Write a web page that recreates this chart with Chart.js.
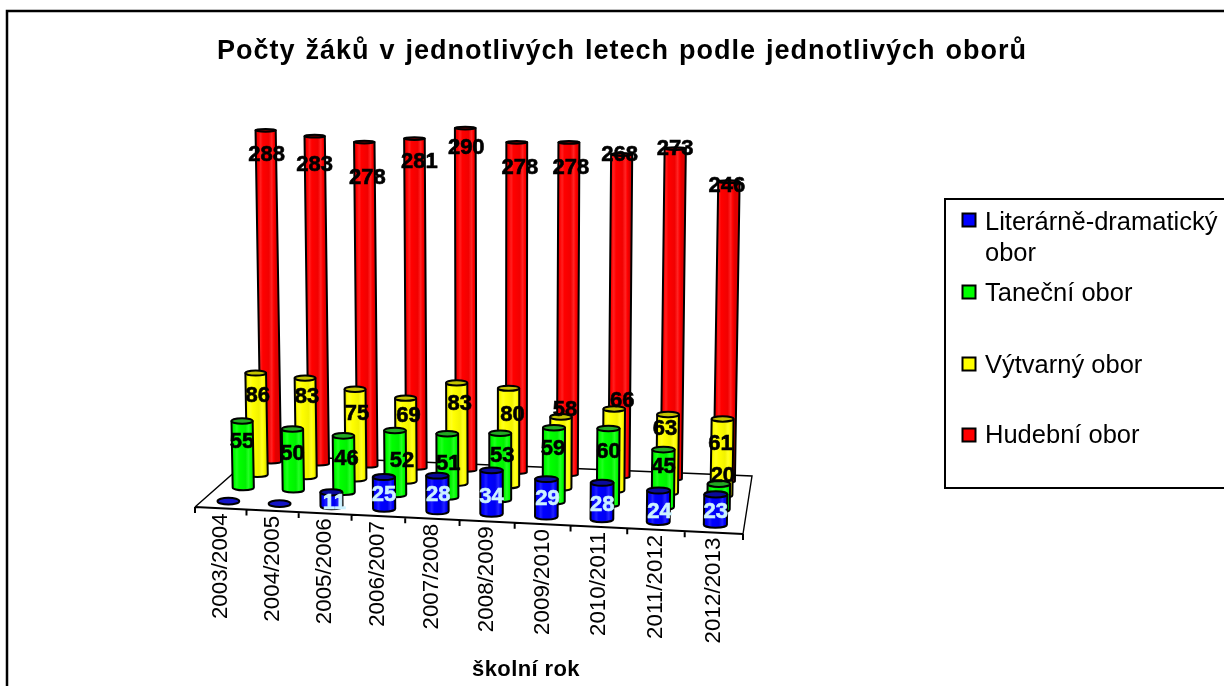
<!DOCTYPE html>
<html lang="cs">
<head>
    <meta charset="UTF-8">
    <title>Počty žáků</title>
    <script src="https://cdn.jsdelivr.net/npm/chart.js"></script>
    <style>
        body { margin: 0; background: #ffffff; }
        canvas { display: block; }
    </style>
</head>
<body>
    <canvas id="chart" width="1224" height="686"></canvas>
    <script>
        const chartTitle = "Počty žáků v jednotlivých letech podle jednotlivých oborů";
        const axisTitle = "školní rok";
        const years = ["2003/2004", "2004/2005", "2005/2006", "2006/2007", "2007/2008",
                       "2008/2009", "2009/2010", "2010/2011", "2011/2012", "2012/2013"];
        const literarni = [0, 0, 11, 25, 28, 34, 29, 28, 24, 23];
        const tanecni = [55, 50, 46, 52, 51, 53, 59, 60, 45, 20];
        const vytvarny = [86, 83, 75, 69, 83, 80, 58, 66, 63, 61];
        const hudebni = [288, 283, 278, 281, 290, 278, 278, 268, 273, 246];
        const seriesNames = ["Literárně-dramatický obor", "Taneční obor", "Výtvarný obor", "Hudební obor"];
        const seriesValues = [literarni, tanecni, vytvarny, hudebni];

        const FONT = '"Liberation Sans", Arial, sans-serif';

        // floor of the 3D box on screen: front-left, front-right, back-right, back-left
        const floor = [[195, 507], [743, 534], [752, 476], [254, 455]];
        const spreadCentre = 500;   // bars lean away from this x as they get taller
        const spread = 0.00007;

        const colours = ["#0000ff", "#00ff00", "#ffff00", "#ff0000"];
        const topColours = ["#0a0a9c", "#22aa22", "#c4c400", "#7a0000"];
        const labelColours = ["#ccf2ff", "#000000", "#000000", "#000000"];

        // Excel put the 3D labels in odd places, these are pixel nudges from the top of each bar
        const labelNudges = [
            [[0, 0], [0, 0], [3, 11], [0, 18], [1, 19], [0, 27], [1, 20], [0, 22], [1, 21], [0, 18]],
            [[0, 21], [0, 25], [3, 23], [7, 30], [1, 30], [2, 23], [-1, 21], [0, 23], [0, 17], [4, -8]],
            [[2, 23], [2, 19], [2, 25], [3, 18], [3, 21], [4, 27], [4, -7], [8, -8], [-3, 14], [-2, 25]],
            [[1, 25], [0, 29], [3, 36], [5, 23], [1, 20], [3, 26], [2, 26], [-2, 0], [0, 0], [-2, 4]]
        ];

        // square to quad homography, u runs along the years, v runs into the depth
        const [p0, p1, p2, p3] = floor;
        const sx = p0[0] - p1[0] + p2[0] - p3[0];
        const sy = p0[1] - p1[1] + p2[1] - p3[1];
        const dx1 = p1[0] - p2[0], dx2 = p3[0] - p2[0];
        const dy1 = p1[1] - p2[1], dy2 = p3[1] - p2[1];
        const det = dx1 * dy2 - dx2 * dy1;
        const hg = (sx * dy2 - dx2 * sy) / det;
        const hh = (dx1 * sy - sx * dy1) / det;

        function project(u, v) {
            const w = 1 + hg * u + hh * v;
            const x = (p1[0] - p0[0] + hg * p1[0]) * u + (p3[0] - p0[0] + hh * p3[0]) * v + p0[0];
            const y = (p1[1] - p0[1] + hg * p1[1]) * u + (p3[1] - p0[1] + hh * p3[1]) * v + p0[1];
            return { x: x / w, y: y / w, w: w };
        }

        // screen position of a bar: floor point plus top centre
        function barGeometry(chart, bar, seriesIndex) {
            const area = chart.chartArea;
            const u = (bar.x - area.left) / area.width;
            const v = (seriesIndex + 0.5) / 4;
            const foot = project(u, v);
            const height = (bar.base - bar.y) / foot.w;
            return {
                x: foot.x,
                y: foot.y,
                topX: spreadCentre + (foot.x - spreadCentre) * (1 + height * spread),
                topY: foot.y - height,
                height: height,
                width: bar.width / foot.w
            };
        }

        function shade(hex, f) {
            const n = parseInt(hex.slice(1), 16);
            const parts = [n >> 16, (n >> 8) & 255, n & 255].map(c =>
                Math.round(f <= 1 ? c * f : c + (255 - c) * (f - 1)));
            return `rgb(${parts[0]},${parts[1]},${parts[2]})`;
        }

        function drawCylinder(ctx, g, colour, topColour) {
            const rx = g.width / 2;
            const ry = Math.max(1.4, 3.2 - g.height * 0.006);
            ctx.lineWidth = 2;
            ctx.lineJoin = "round";
            ctx.strokeStyle = "#000000";
            if (g.height > 0) {
                const left = Math.min(g.x, g.topX) - rx;
                const grad = ctx.createLinearGradient(left, 0, left + g.width, 0);
                grad.addColorStop(0, shade(colour, 0.85));
                grad.addColorStop(0.14, shade(colour, 1));
                grad.addColorStop(0.25, shade(colour, 1.12));
                grad.addColorStop(0.36, shade(colour, 1));
                grad.addColorStop(0.66, shade(colour, 0.95));
                grad.addColorStop(0.8, shade(colour, 1.14));
                grad.addColorStop(0.9, shade(colour, 1));
                grad.addColorStop(1, shade(colour, 0.88));
                ctx.beginPath();
                ctx.moveTo(g.topX - rx, g.topY);
                ctx.lineTo(g.x - rx, g.y);
                ctx.ellipse(g.x, g.y, rx, ry, 0, Math.PI, 0, true);
                ctx.lineTo(g.topX + rx, g.topY);
                ctx.closePath();
                ctx.fillStyle = grad;
                ctx.fill();
                ctx.stroke();
            }
            ctx.beginPath();
            ctx.ellipse(g.topX, g.topY, rx, g.height > 0 ? ry : 3.4, 0, 0, Math.PI * 2);
            ctx.fillStyle = g.height > 0 ? topColour : "#1414c8";
            ctx.fill();
            ctx.stroke();
        }

        const box3d = {
            id: "box3d",
            beforeDraw(chart) {
                const ctx = chart.ctx;
                ctx.save();
                ctx.fillStyle = "#ffffff";
                ctx.fillRect(0, 0, chart.width, chart.height);
                // outer frame runs off the right and bottom of the picture
                ctx.strokeStyle = "#000000";
                ctx.lineWidth = 2.5;
                ctx.beginPath();
                ctx.moveTo(7, 700);
                ctx.lineTo(7, 11);
                ctx.lineTo(1240, 11);
                ctx.stroke();
                ctx.restore();
            },
            beforeDatasetsDraw(chart) {
                const ctx = chart.ctx;
                ctx.save();
                ctx.strokeStyle = "#000000";
                // back and side edges of the floor
                ctx.lineWidth = 1.4;
                ctx.beginPath();
                ctx.moveTo(p0[0], p0[1]);
                ctx.lineTo(p3[0], p3[1]);
                ctx.lineTo(p2[0], p2[1]);
                ctx.lineTo(p1[0], p1[1]);
                ctx.stroke();
                // front edge and year ticks
                ctx.lineWidth = 2;
                ctx.beginPath();
                ctx.moveTo(p0[0], p0[1]);
                ctx.lineTo(p1[0], p1[1]);
                for (let i = 0; i <= years.length; i++) {
                    const t = project(i / years.length, 0);
                    ctx.moveTo(t.x, t.y);
                    ctx.lineTo(t.x, t.y + 6);
                }
                ctx.stroke();
                ctx.restore();
            },
            beforeDatasetDraw(chart, args) {
                const ctx = chart.ctx;
                ctx.save();
                args.meta.data.forEach(bar => {
                    drawCylinder(ctx, barGeometry(chart, bar, args.index),
                        colours[args.index], topColours[args.index]);
                });
                ctx.restore();
                return false;
            },
            afterDatasetsDraw(chart) {
                const ctx = chart.ctx;
                ctx.save();
                ctx.textAlign = "center";
                ctx.textBaseline = "middle";
                ctx.font = `bold 22px ${FONT}`;
                ctx.lineWidth = 0.6;
                chart.data.datasets.forEach((ds, s) => {
                    ctx.fillStyle = labelColours[s];
                    ctx.strokeStyle = labelColours[s];
                    chart.getDatasetMeta(s).data.forEach((bar, i) => {
                        if (!ds.data[i]) return;
                        const g = barGeometry(chart, bar, s);
                        const nudge = labelNudges[s][i];
                        ctx.fillText(ds.data[i], g.topX + nudge[0], g.topY + nudge[1]);
                        ctx.strokeText(ds.data[i], g.topX + nudge[0], g.topY + nudge[1]);
                    });
                });
                ctx.restore();
            },
            afterDraw(chart) {
                const ctx = chart.ctx;
                ctx.save();
                ctx.fillStyle = "#000000";
                ctx.textBaseline = "alphabetic";

                // title
                ctx.textAlign = "center";
                ctx.font = `bold 27px ${FONT}`;
                ctx.letterSpacing = "1px";
                ctx.wordSpacing = "1.5px";
                ctx.fillText(chartTitle, 622, 59);
                ctx.letterSpacing = "0px";
                ctx.wordSpacing = "0px";

                // year labels, rotated, hanging under the middle of each tick span
                ctx.font = `22.4px ${FONT}`;
                ctx.textAlign = "right";
                years.forEach((year, i) => {
                    const u = (chart.scales.x.getPixelForValue(i) - chart.chartArea.left) / chart.chartArea.width;
                    const p = project(u, 0);
                    ctx.save();
                    ctx.translate(p.x, p.y + 5);
                    ctx.rotate(-Math.PI / 2);
                    ctx.textBaseline = "middle";
                    ctx.fillText(year, 0, 0);
                    ctx.restore();
                });

                // axis title
                ctx.textAlign = "center";
                ctx.font = `bold 22px ${FONT}`;
                ctx.letterSpacing = "0.4px";
                ctx.fillText(axisTitle, 526, 676);
                ctx.letterSpacing = "0px";

                // legend box, also cut off by the right side
                ctx.strokeStyle = "#000000";
                ctx.lineWidth = 2;
                ctx.strokeRect(945, 199, 400, 289);

                // the first name wraps onto two lines
                const legendRows = [
                    { marker: 220, lines: [["Literárně-dramatický", 230], ["obor", 261]] },
                    { marker: 292, lines: [[seriesNames[1], 301]] },
                    { marker: 364, lines: [[seriesNames[2], 373]] },
                    { marker: 435, lines: [[seriesNames[3], 443]] }
                ];
                ctx.textAlign = "left";
                ctx.font = `25.5px ${FONT}`;
                legendRows.forEach((row, s) => {
                    ctx.fillStyle = colours[s];
                    ctx.fillRect(962.5, row.marker - 6.5, 13, 13);
                    ctx.strokeRect(962.5, row.marker - 6.5, 13, 13);
                    ctx.fillStyle = "#000000";
                    row.lines.forEach(line => ctx.fillText(line[0], 985, line[1]));
                });
                ctx.restore();
            }
        };

        new Chart(document.getElementById("chart"), {
            type: "bar",
            data: {
                labels: years,
                datasets: seriesNames.map((name, i) => ({
                    label: name,
                    data: seriesValues[i],
                    backgroundColor: colours[i],
                    grouped: false,
                    categoryPercentage: 1,
                    barPercentage: 0.4
                }))
            },
            options: {
                responsive: false,
                animation: false,
                layout: { padding: { left: 195, right: 481, top: 132, bottom: 179 } },
                plugins: { legend: { display: false }, title: { display: false }, tooltip: { enabled: false } },
                scales: {
                    x: { display: false },
                    y: { display: false, min: 0, max: 300 }
                }
            },
            plugins: [box3d]
        });
    </script>
</body>
</html>
